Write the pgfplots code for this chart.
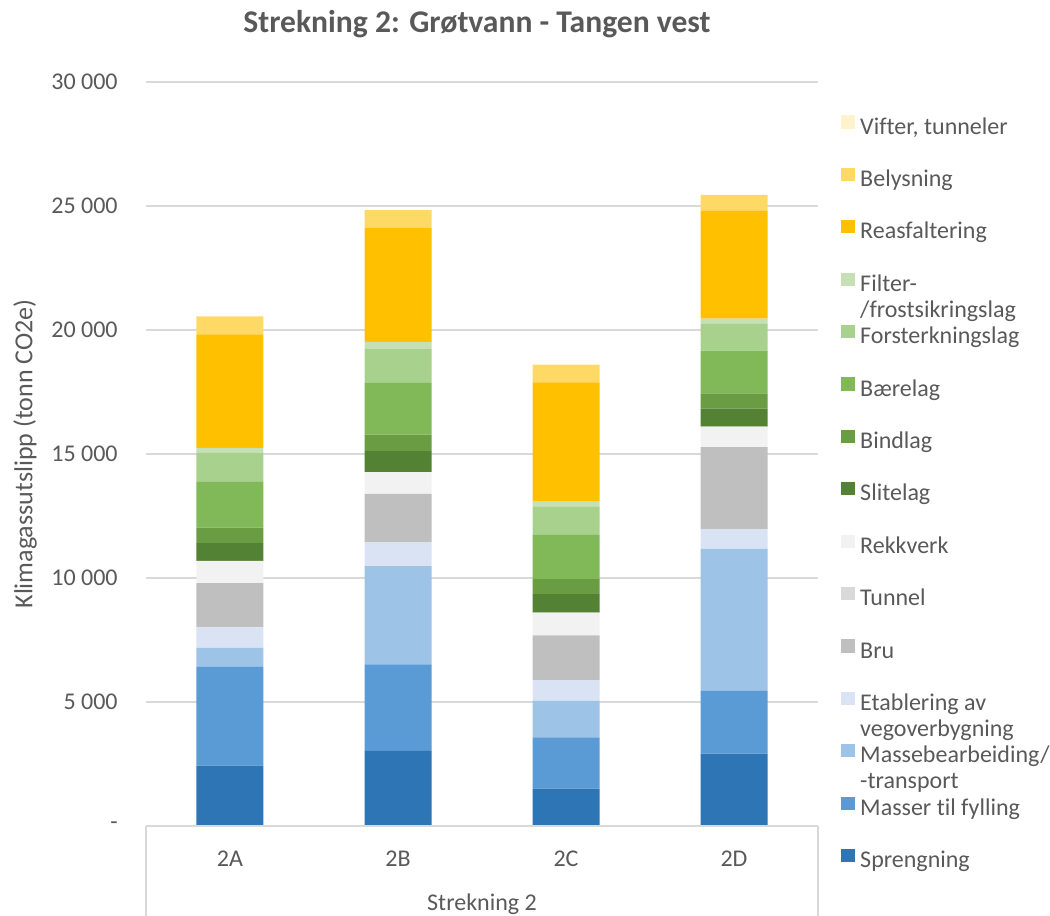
\documentclass[border=0pt]{standalone}
\usepackage{pgfplots}
\pgfplotsset{compat=1.18}
\usepackage{fontspec}
\setmainfont{Carlito}[Ligatures=NoCommon]
\definecolor{txt}{HTML}{595959}
\definecolor{gridc}{HTML}{D9D9D9}
\definecolor{c1}{HTML}{2E75B6}
\definecolor{c2}{HTML}{5B9BD5}
\definecolor{c3}{HTML}{9DC3E6}
\definecolor{c4}{HTML}{DAE3F3}
\definecolor{c5}{HTML}{BFBFBF}
\definecolor{c6}{HTML}{D9D9D9}
\definecolor{c7}{HTML}{F2F2F2}
\definecolor{c8}{HTML}{548235}
\definecolor{c9}{HTML}{699C43}
\definecolor{c10}{HTML}{81B958}
\definecolor{c11}{HTML}{A9D18E}
\definecolor{c12}{HTML}{C5E0B4}
\definecolor{c13}{HTML}{FFC000}
\definecolor{c14}{HTML}{FFD966}
\definecolor{c15}{HTML}{FFF2CC}
\begin{document}
\begin{tikzpicture}
\begin{axis}[
  name=ax,
  scale only axis, width=336pt, height=372pt,
  ybar stacked, bar width=33.5pt,
  xmin=-0.5, xmax=3.5, ymin=0, ymax=30000,
  scaled y ticks=false,
  xtick={0,1,2,3}, xticklabels={2A,2B,2C,2D},
  ytick={0,5000,10000,15000,20000,25000,30000},
  yticklabels={-\hspace{5.5pt},5 000,10 000,15 000,20 000,25 000,30 000},
  ymajorgrids, grid style={color=gridc, line width=0.75pt},
  axis line style={draw=none}, major tick length=0pt,
  font=\fontsize{12pt}{14pt}\selectfont,
  every tick label/.append style={text=txt},
  yticklabel style={inner sep=0pt, anchor=east, xshift=-14pt},
  xticklabel style={inner sep=0pt, anchor=base, yshift=-20pt},
  title={Strekning 2: Grøtvann - Tangen vest},
  title style={at={(axis description cs:0.5,1)}, anchor=base, yshift=18.5pt, xshift=-2.5pt, font=\fontsize{15.8pt}{18pt}\selectfont\bfseries, text=txt},
  ylabel={Klimagassutslipp (tonn CO2e)},
  ylabel style={at={(axis description cs:-0.18,0.5)}, anchor=center, font=\fontsize{13pt}{15pt}\selectfont, text=txt},
  xlabel={Strekning 2},
  xlabel style={at={(axis description cs:0.5,0)}, anchor=base, yshift=-42pt, inner sep=0pt, text=txt},
  reverse legend,
  legend style={draw=none, fill=none, inner sep=0pt, at={(axis description cs:1.034,0.9556)}, anchor=north west,
    row sep=13.9pt, font=\fontsize{12pt}{13pt}\selectfont, text=txt,
    nodes={inner sep=0pt, text height=9pt, text depth=3pt},
    /tikz/every odd column/.append style={column sep=2.5pt}},
  legend cell align=left,
  every axis plot post/.append style={draw=none, /pgfplots/legend image code/.code={\fill[##1] (0pt,-0.3pt) rectangle (7pt,6.3pt);}},
]
\addplot[fill=c1] coordinates {(0,2430) (1,3030) (2,1510) (3,2920)};
\addlegendentry{Sprengning}
\addplot[fill=c2] coordinates {(0,3990) (1,3490) (2,2060) (3,2530)};
\addlegendentry{Masser til fylling}
\addplot[fill=c3] coordinates {(0,760) (1,3960) (2,1490) (3,5720)};
\addlegendentry{\parbox[t]{120pt}{Massebearbeiding/\\-transport}}
\addplot[fill=c4] coordinates {(0,830) (1,970) (2,820) (3,800)};
\addlegendentry{\parbox[t]{120pt}{Etablering av\\vegoverbygning}}
\addplot[fill=c5] coordinates {(0,1780) (1,1940) (2,1810) (3,3310)};
\addlegendentry{Bru}
\addplot[fill=c6] coordinates {(0,0) (1,0) (2,0) (3,0)};
\addlegendentry{Tunnel}
\addplot[fill=c7] coordinates {(0,900) (1,880) (2,910) (3,820)};
\addlegendentry{Rekkverk}
\addplot[fill=c8] coordinates {(0,720) (1,850) (2,750) (3,730)};
\addlegendentry{Slitelag}
\addplot[fill=c9] coordinates {(0,620) (1,660) (2,600) (3,610)};
\addlegendentry{Bindlag}
\addplot[fill=c10] coordinates {(0,1850) (1,2090) (2,1790) (3,1730)};
\addlegendentry{Bærelag}
\addplot[fill=c11] coordinates {(0,1170) (1,1360) (2,1150) (3,1080)};
\addlegendentry{Forsterkningslag}
\addplot[fill=c12] coordinates {(0,200) (1,280) (2,190) (3,210)};
\addlegendentry{\parbox[t]{120pt}{Filter-\\/frostsikringslag}}
\addplot[fill=c13] coordinates {(0,4570) (1,4620) (2,4810) (3,4340)};
\addlegendentry{Reasfaltering}
\addplot[fill=c14] coordinates {(0,730) (1,700) (2,710) (3,650)};
\addlegendentry{Belysning}
\addplot[fill=c15] coordinates {(0,0) (1,0) (2,0) (3,0)};
\addlegendentry{Vifter, tunneler}
\end{axis}
\draw[gridc, line width=0.75pt] (ax.south west) -- (ax.south east);
\draw[gridc, line width=0.75pt] (ax.south west) -- ++(0,-45pt);
\draw[gridc, line width=0.75pt] (ax.south east) -- ++(0,-45pt);
\pgfresetboundingbox
\path[use as bounding box] ([shift={(-73pt,-45pt)}]ax.south west) rectangle ([shift={(452pt,413pt)}]ax.south west);
\end{tikzpicture}
\end{document}
